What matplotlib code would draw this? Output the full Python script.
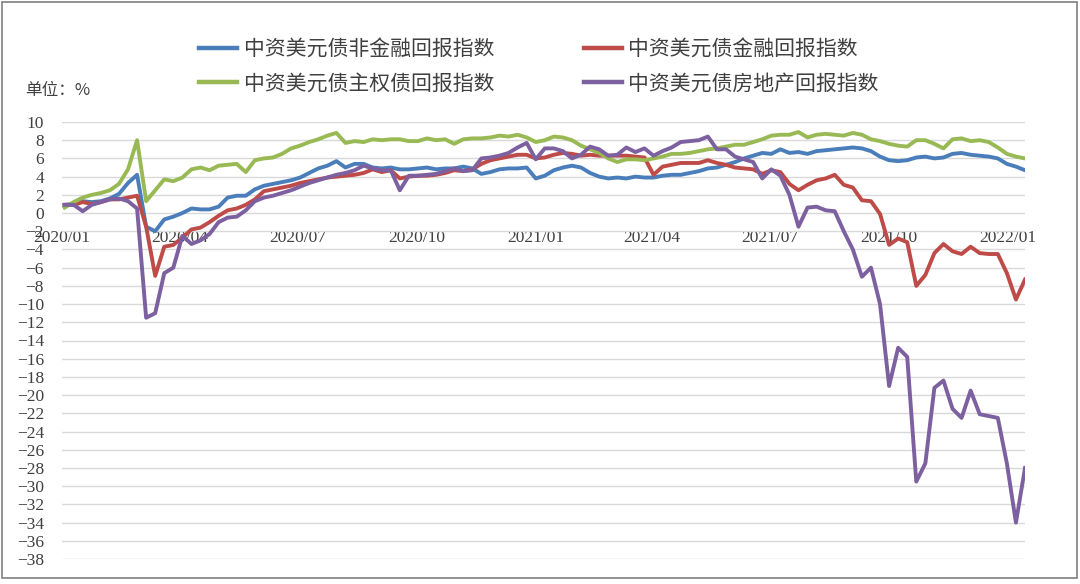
import numpy as np
import pandas as pd
import matplotlib
matplotlib.use("Agg")
import matplotlib.pyplot as plt
import matplotlib.dates as mdates
from matplotlib.patches import Rectangle

plt.rcParams['font.family'] = ['Noto Sans CJK SC', 'DejaVu Sans']

# weekly closes, 2020-01-03 .. 2022-01-14
dates = pd.date_range('2020-01-03', periods=107, freq='7D')

nonfin = [0.9, 1.0, 1.3, 1.2, 1.3, 1.6, 2.1, 3.3, 4.2, -1.5, -2.0, -0.7, -0.4, 0.0, 0.5, 0.4, 0.4, 0.7, 1.7, 1.9, 1.9, 2.6,
          3.0, 3.2, 3.4, 3.6, 3.9, 4.4, 4.9, 5.2, 5.7, 5.0, 5.4, 5.4,
          5.0, 4.9, 5.0, 4.8, 4.8, 4.9, 5.0, 4.8, 4.9, 4.9, 5.1, 4.9, 4.3, 4.5, 4.8, 4.9, 4.9, 5.0, 3.8, 4.1,
          4.7, 5.0, 5.2, 5.0, 4.4, 4.0, 3.8, 3.9, 3.8, 4.0, 3.9, 3.9, 4.1, 4.2, 4.2, 4.4, 4.6, 4.9, 5.0,
          5.3, 5.6, 6.0, 6.3, 6.6, 6.5, 7.0, 6.6, 6.7, 6.5, 6.8, 6.9, 7.0, 7.1, 7.2, 7.1, 6.8, 6.2, 5.8, 5.7,
          5.8, 6.1, 6.2, 6.0, 6.1, 6.5, 6.6, 6.4, 6.3, 6.2, 6.0, 5.4, 5.1, 4.7]

fin = [0.9, 0.9, 1.2, 1.0, 1.2, 1.5, 1.5, 1.7, 1.9, -1.5, -6.9, -3.7, -3.5, -2.7, -1.8, -1.6, -1.0, -0.3, 0.3, 0.5, 0.9, 1.5,
       2.4, 2.6, 2.8, 3.0, 3.3, 3.5, 3.7, 3.9, 4.0, 4.1, 4.2, 4.4,
       4.8, 4.5, 4.7, 3.8, 4.0, 4.1, 4.1, 4.2, 4.4, 4.7, 4.6, 4.8, 5.4, 5.8, 6.0, 6.2, 6.4, 6.4, 6.0, 6.1,
       6.4, 6.6, 6.5, 6.3, 6.4, 6.3, 6.3, 6.3, 6.3, 6.2, 6.1, 4.2, 5.1, 5.3, 5.5, 5.5, 5.5, 5.8, 5.5,
       5.3, 5.0, 4.9, 4.8, 4.3, 4.7, 4.5, 3.2, 2.5, 3.1, 3.6, 3.8, 4.2, 3.1, 2.8, 1.4, 1.3, -0.1, -3.5, -2.8,
       -3.2, -8.0, -6.8, -4.4, -3.4, -4.2, -4.5, -3.7, -4.4, -4.5, -4.5, -6.6, -9.5, -7.3]

sov = [0.6, 1.2, 1.7, 2.0, 2.2, 2.5, 3.2, 4.8, 8.0, 1.3, 2.5, 3.7, 3.5, 3.9, 4.8, 5.0, 4.7, 5.2, 5.3, 5.4, 4.5, 5.8,
       6.0, 6.1, 6.5, 7.1, 7.4, 7.8, 8.1, 8.5, 8.8, 7.7, 7.9, 7.8,
       8.1, 8.0, 8.1, 8.1, 7.9, 7.9, 8.2, 8.0, 8.1, 7.6, 8.1, 8.2, 8.2, 8.3, 8.5, 8.4, 8.6, 8.3, 7.8, 8.0,
       8.4, 8.3, 8.0, 7.4, 7.0, 6.6, 6.0, 5.6, 5.9, 5.9, 5.8, 6.0, 6.2, 6.5, 6.5, 6.6, 6.8, 7.0, 7.1,
       7.3, 7.5, 7.5, 7.8, 8.1, 8.5, 8.6, 8.6, 8.9, 8.3, 8.6, 8.7, 8.6, 8.5, 8.8, 8.6, 8.1, 7.9, 7.6, 7.4,
       7.3, 8.0, 8.0, 7.6, 7.1, 8.1, 8.2, 7.9, 8.0, 7.8, 7.2, 6.5, 6.2, 6.0]

prop = [0.9, 0.9, 0.2, 0.9, 1.2, 1.5, 1.6, 1.3, 0.5, -11.5, -11.0, -6.6, -6.0, -2.5, -3.4, -3.0, -2.3, -1.0, -0.5, -0.4, 0.3, 1.3,
        1.7, 1.9, 2.2, 2.5, 2.9, 3.3, 3.6, 3.9, 4.2, 4.4, 4.7, 5.2,
        4.9, 4.7, 4.7, 2.5, 4.1, 4.1, 4.2, 4.3, 4.6, 4.9, 4.6, 4.7, 6.0, 6.1, 6.3, 6.6, 7.2, 7.7, 5.9, 7.1,
        7.1, 6.8, 6.0, 6.4, 7.3, 7.0, 6.3, 6.4, 7.2, 6.7, 7.1, 6.3, 6.8, 7.2, 7.8, 7.9, 8.0, 8.4, 7.0,
        7.0, 6.2, 5.9, 5.6, 3.8, 4.8, 4.1, 2.0, -1.5, 0.6, 0.7, 0.3, 0.2, -2.0, -4.0, -7.0, -6.0, -10.0, -19.0, -14.8,
        -15.8, -29.5, -27.5, -19.2, -18.4, -21.5, -22.5, -19.5, -22.1, -22.3, -22.5, -27.5, -34.0, -28.0]

names = ['中资美元债非金融回报指数', '中资美元债金融回报指数', '中资美元债主权债回报指数', '中资美元债房地产回报指数']
colors = ['#4A7EBB', '#BE4B48', '#98B954', '#7D60A0']

fig = plt.figure(figsize=(10.8, 5.84), dpi=100)
ax = fig.add_axes([62/1080, 1 - 559/584, (1025 - 62)/1080, (559 - 122)/584])

lines = {}
for nm, vals, c in zip(names, [nonfin, fin, sov, prop], colors):
    lines[nm], = ax.plot(dates, vals, color=c, lw=2.8, solid_joinstyle='round')

ax.set_ylim(-38, 10)
ax.set_yticks(np.arange(-38, 11, 2))
ax.set_xlim(pd.Timestamp('2020-01-01'), pd.Timestamp('2022-01-14'))
ax.xaxis.set_major_locator(mdates.MonthLocator(bymonth=[1, 4, 7, 10]))
ax.xaxis.set_major_formatter(mdates.DateFormatter('%Y/%m'))

ax.grid(axis='y', color='#D9D9D9', lw=1)
ax.set_axisbelow(True)
for s in ['top', 'right', 'left']:
    ax.spines[s].set_visible(False)
# category axis crosses at zero, like the original
ax.spines['bottom'].set_position(('data', 0))
ax.spines['bottom'].set_visible(False)
ax.tick_params(axis='both', length=0, colors='#404040')
ax.tick_params(axis='x', pad=12)
ax.tick_params(axis='y', pad=13)
for lab in ax.get_xticklabels() + ax.get_yticklabels():
    lab.set_family('Liberation Serif')
    lab.set_fontsize(12.5)
    lab.set_color('#404040')

order = [names[0], names[2], names[1], names[3]]
leg = fig.legend([lines[n] for n in order], order, ncol=2, frameon=False,
                 loc='upper left', bbox_to_anchor=(180/1080, 1 - 20/584),
                 prop={'family': ['Noto Sans CJK SC', 'DejaVu Sans'], 'size': 15},
                 handlelength=1.85, handletextpad=0.3, columnspacing=4.3, labelspacing=0.55)
for t in leg.get_texts():
    t.set_color('#404040')
for h in leg.get_lines():
    h.set_linewidth(3.2)

fig.text(25/1080, 1 - 90/584, '单位：%', fontsize=12, color='#404040', va='center',
         family=['Noto Sans CJK SC', 'DejaVu Sans'])

fig.patches.append(Rectangle((2/1080, 6/584), 1075/1080, 576/584, transform=fig.transFigure,
                             fill=False, edgecolor='#7F7F7F', lw=1.2))

fig.savefig('out.png', dpi=100)
